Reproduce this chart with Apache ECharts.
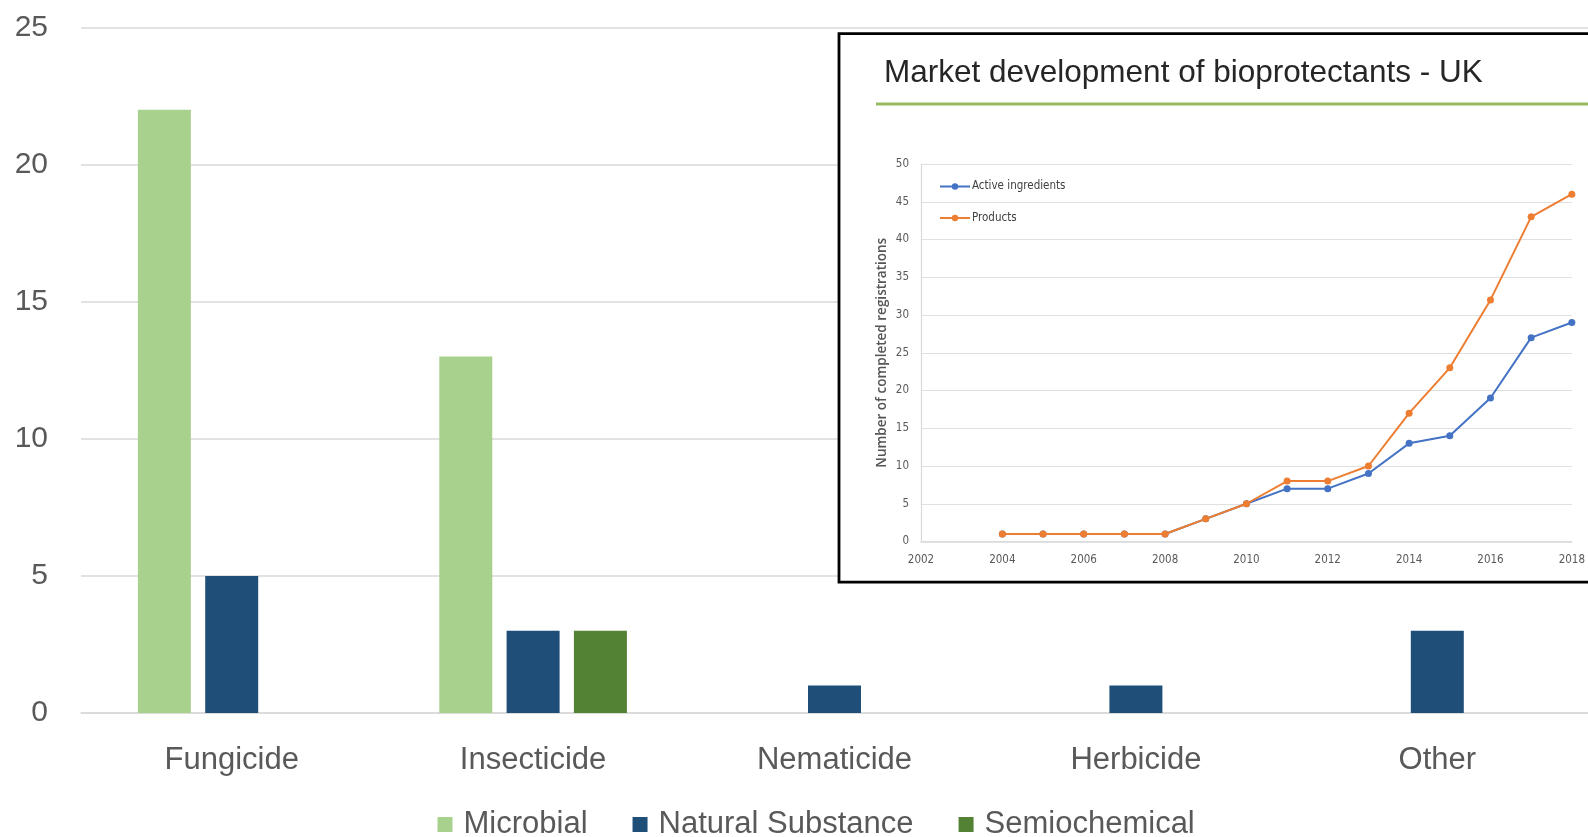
<!DOCTYPE html>
<html>
<head>
<meta charset="utf-8">
<script src="https://cdn.jsdelivr.net/npm/echarts@6/dist/echarts.min.js"></script>
<style>
  html, body { margin: 0; padding: 0; background: #fff; overflow: hidden; }
  #main, #inset { position: absolute; left: 0; top: 0; width: 1588px; height: 837px; }
</style>
</head>
<body>
<div id="main"></div>
<div id="inset"></div>
<script>
// Registered bioprotectants by type and substance class
const categories = ['Fungicide', 'Insecticide', 'Nematicide', 'Herbicide', 'Other'];
const microbial = [22, 13, 0, 0, 0];
const naturalSubstance = [5, 3, 1, 1, 3];
const semiochemical = [0, 3, 0, 0, 0];

// UK market development: completed registrations per year
const years = [2004, 2005, 2006, 2007, 2008, 2009, 2010, 2011, 2012, 2013, 2014, 2015, 2016, 2017, 2018];
const activeIngredients = [1, 1, 1, 1, 1, 3, 5, 7, 7, 9, 13, 14, 19, 27, 29];
const products = [1, 1, 1, 1, 1, 3, 5, 8, 8, 10, 17, 23, 32, 43, 46];

const SANS = '"Liberation Sans", Arial, sans-serif';
const SMALL = '"DejaVu Sans Condensed", "DejaVu Sans", sans-serif';
const GREY = '#595959';

const main = echarts.init(document.getElementById('main'), null, { renderer: 'canvas' });
main.setOption({
  animation: false,
  backgroundColor: '#fff',
  grid: { left: 81, right: -3.5, top: 27.4, bottom: 124, containLabel: false },
  legend: {
    left: 437.5, top: 809, padding: 0,
    icon: 'rect', itemWidth: 15, itemHeight: 15, itemGap: 45,
    textStyle: { fontFamily: SANS, fontSize: 31, color: GREY, lineHeight: 31, padding: [0, 0, 0, 6] },
    data: ['Microbial', 'Natural Substance', 'Semiochemical']
  },
  xAxis: {
    type: 'category',
    data: categories,
    axisLine: { lineStyle: { color: '#d9d9d9', width: 1.5 } },
    axisTick: { show: false },
    axisLabel: { fontFamily: SANS, fontSize: 31, color: GREY, margin: 32 }
  },
  yAxis: {
    type: 'value', min: 0, max: 25, interval: 5,
    axisLine: { show: false }, axisTick: { show: false },
    splitLine: { lineStyle: { color: '#d9d9d9', width: 1.5 } },
    axisLabel: { fontFamily: SANS, fontSize: 30, color: GREY, margin: 33, lineHeight: 34, verticalAlign: 'middle' }
  },
  series: [
    { name: 'Microbial', type: 'bar', data: microbial, barWidth: 53, barGap: '27%', itemStyle: { color: '#A9D18E' } },
    { name: 'Natural Substance', type: 'bar', data: naturalSubstance, barWidth: 53, barGap: '27%', itemStyle: { color: '#1F4E79' } },
    { name: 'Semiochemical', type: 'bar', data: semiochemical, barWidth: 53, barGap: '27%', itemStyle: { color: '#548235' } }
  ]
});

const inset = echarts.init(document.getElementById('inset'), null, { renderer: 'canvas' });
const pairs = (ys) => years.map((y, i) => [y, ys[i]]);
inset.setOption({
  animation: false,
  backgroundColor: 'transparent',
  graphic: [
    { type: 'rect', z: 0, shape: { x: 839, y: 33.7, width: 800, height: 548.5 },
      style: { fill: '#fff', stroke: '#000', lineWidth: 2.8 } },
    { type: 'line', z: 1, shape: { x1: 876, y1: 104, x2: 1600, y2: 104 },
      style: { stroke: '#97BA60', lineWidth: 3 } }
  ],
  title: {
    text: 'Market development of bioprotectants - UK',
    left: 884, top: 57, padding: 0,
    textStyle: { fontFamily: SANS, fontSize: 31.5, fontWeight: 'normal', color: '#262626', lineHeight: 32 }
  },
  grid: { left: 921, right: 14, top: 164, bottom: 295.5, containLabel: false },
  legend: {
    orient: 'vertical', left: 939, top: 180.5, padding: 0,
    itemWidth: 30, itemHeight: 8, itemGap: 19.5,
    textStyle: { fontFamily: SMALL, fontSize: 11.5, color: '#404040', padding: [0, 0, 0, -3] },
    data: ['Active ingredients', 'Products']
  },
  xAxis: {
    type: 'value', min: 2002, max: 2018, interval: 2, z: 10,
    axisLine: { lineStyle: { color: '#d9d9d9', width: 1.5 } },
    axisTick: { show: false },
    splitLine: { show: false },
    axisLabel: { fontFamily: SMALL, fontSize: 11.5, color: GREY, margin: 13, formatter: (v) => String(v) }
  },
  yAxis: {
    type: 'value', min: 0, max: 50, interval: 5, z: 10,
    name: 'Number of completed registrations',
    nameLocation: 'middle', nameGap: 32,
    nameTextStyle: { fontFamily: '"Open Sans", sans-serif', fontSize: 13.5, color: '#555555', fontWeight: 600 },
    axisLine: { show: true, lineStyle: { color: '#d9d9d9', width: 1.2 } },
    axisTick: { show: false },
    splitLine: { lineStyle: { color: '#e0e0e0', width: 1.2 } },
    axisLabel: { fontFamily: SMALL, fontSize: 11.5, color: GREY, margin: 12 }
  },
  series: [
    { name: 'Active ingredients', type: 'line', z: 11, data: pairs(activeIngredients),
      symbol: 'circle', symbolSize: 7, lineStyle: { width: 2, color: '#4472C4' }, itemStyle: { color: '#4472C4' } },
    { name: 'Products', type: 'line', z: 12, data: pairs(products),
      symbol: 'circle', symbolSize: 7, lineStyle: { width: 2, color: '#ED7D31' }, itemStyle: { color: '#ED7D31' } }
  ]
});
</script>
</body>
</html>
